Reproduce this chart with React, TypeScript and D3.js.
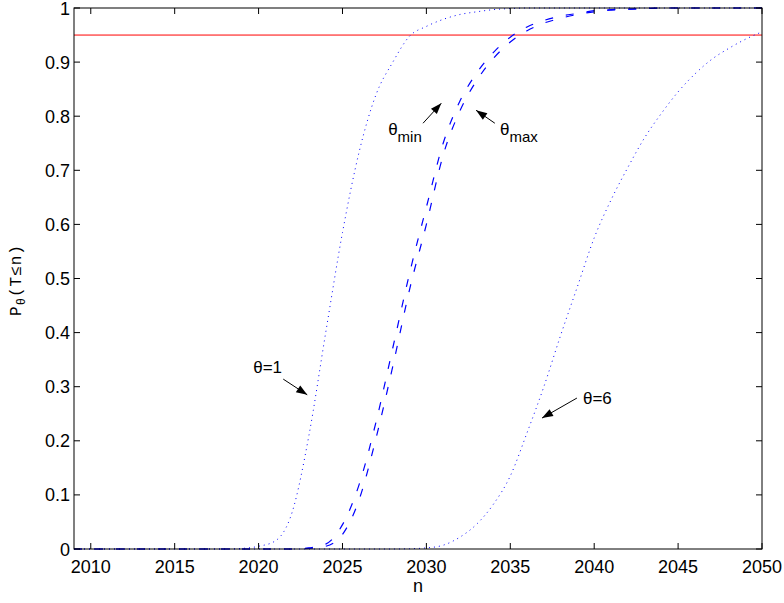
import React from "react";
import * as d3 from "d3";

const years = [2009, 2010, 2011, 2012, 2013, 2014, 2015, 2016, 2017, 2018, 2019, 2020, 2021, 2022, 2023, 2024, 2025, 2026, 2027, 2028, 2029, 2030, 2031, 2032, 2033, 2034, 2035, 2036, 2037, 2038, 2039, 2040, 2041, 2042, 2043, 2044, 2045, 2046, 2047, 2048, 2049, 2050];

const theta1 = [0, 0, 0, 0, 0, 0, 0, 0, 0, 0, 0.001, 0.005, 0.015, 0.068, 0.21, 0.4, 0.585, 0.735, 0.84, 0.9, 0.948, 0.966, 0.979, 0.988, 0.993, 0.997, 0.999, 1, 1, 1, 1, 1, 1, 1, 1, 1, 1, 1, 1, 1, 1, 1];

const theta6 = [0, 0, 0, 0, 0, 0, 0, 0, 0, 0, 0, 0, 0, 0, 0, 0, 0, 0, 0, 0, 0.0005, 0.002, 0.007, 0.022, 0.046, 0.083, 0.135, 0.215, 0.3, 0.395, 0.485, 0.575, 0.645, 0.705, 0.76, 0.805, 0.845, 0.878, 0.905, 0.925, 0.942, 0.956];

const thetaMin = [0, 0, 0, 0, 0, 0, 0, 0, 0, 0, 0, 0, 0, 0, 0.002, 0.009, 0.045, 0.12, 0.235, 0.372, 0.51, 0.632, 0.75, 0.828, 0.88, 0.918, 0.946, 0.965, 0.977, 0.985, 0.99, 0.995, 0.997, 0.998, 0.999, 1, 1, 1, 1, 1, 1, 1];

const thetaMax = [0, 0, 0, 0, 0, 0, 0, 0, 0, 0, 0, 0, 0, 0, 0.001, 0.005, 0.027, 0.092, 0.205, 0.338, 0.48, 0.6, 0.728, 0.81, 0.866, 0.907, 0.937, 0.958, 0.972, 0.981, 0.988, 0.993, 0.996, 0.998, 0.999, 1, 1, 1, 1, 1, 1, 1];

const xTicks = [2010, 2015, 2020, 2025, 2030, 2035, 2040, 2045, 2050];
const yTicks = [0, 0.1, 0.2, 0.3, 0.4, 0.5, 0.6, 0.7, 0.8, 0.9, 1];
const threshold = 0.95;

// annotations in data coordinates
const annLabels = ["θ=1", "θ=6", "θ", "θ"];
const annSubs = ["", "", "min", "max"];
const annText = [[2019.68, 0.325], [2039.33, 0.268], [2027.72, 0.765], [2034.39, 0.765]];
const annArrow = [
  [2021.47, 0.314, 2022.9, 0.285],
  [2038.97, 0.279, 2036.89, 0.242],
  [2029.8, 0.787, 2030.89, 0.824],
  [2034.08, 0.787, 2032.96, 0.811],
];

const W = 784, H = 603;
const L = 74, R = 762, T = 8, B = 549;
const FONT = "'Liberation Sans', Arial, Helvetica, sans-serif";

export default function App() {
  const x = d3.scaleLinear().domain([2009, 2050]).range([L, R]);
  const y = d3.scaleLinear().domain([0, 1]).range([B, T]);
  const line = (vals: number[]) =>
    d3.line<number>().x((_, i) => x(years[i])).y((v) => y(v)).curve(d3.curveMonotoneX)(vals) || "";

  const arrowHead = (x1: number, y1: number, x2: number, y2: number) => {
    const ang = Math.atan2(y2 - y1, x2 - x1);
    const len = 11, hw = 4;
    const bx = x2 - len * Math.cos(ang), by = y2 - len * Math.sin(ang);
    const px = -Math.sin(ang) * hw, py = Math.cos(ang) * hw;
    return `${x2},${y2} ${bx + px},${by + py} ${bx - px},${by - py}`;
  };

  return (
    <svg width={W} height={H} style={{ position: "absolute", left: 0, top: 0, background: "#fff" }}>
      <rect x={0} y={0} width={W} height={H} fill="#fff" />
      <line x1={L} x2={R} y1={y(threshold)} y2={y(threshold)} stroke="#f00" strokeWidth={1} />
      <path d={line(theta1)} fill="none" stroke="#00f" strokeWidth={1} strokeDasharray="1,4" />
      <path d={line(theta6)} fill="none" stroke="#00f" strokeWidth={1} strokeDasharray="1,4" />
      <path d={line(thetaMin)} fill="none" stroke="#00f" strokeWidth={1.2} strokeDasharray="8,13" />
      <path d={line(thetaMax)} fill="none" stroke="#00f" strokeWidth={1.2} strokeDasharray="8,13" />
      <rect x={L} y={T} width={R - L} height={B - T} fill="none" stroke="#000" strokeWidth={1} />
      {xTicks.map((t) => (
        <g key={"x" + t}>
          <line x1={x(t)} x2={x(t)} y1={B} y2={B - 6} stroke="#000" />
          <line x1={x(t)} x2={x(t)} y1={T} y2={T + 6} stroke="#000" />
          <text x={x(t)} y={B + 24} textAnchor="middle" fontFamily={FONT} fontSize={18}>{t}</text>
        </g>
      ))}
      {yTicks.map((t) => (
        <g key={"y" + t}>
          <line x1={L} x2={L + 6} y1={y(t)} y2={y(t)} stroke="#000" />
          <line x1={R} x2={R - 6} y1={y(t)} y2={y(t)} stroke="#000" />
          <text x={L - 4} y={y(t) + 6.5} textAnchor="end" fontFamily={FONT} fontSize={18}>{String(t)}</text>
        </g>
      ))}
      <text x={(L + R) / 2} y={592} textAnchor="middle" fontFamily={FONT} fontSize={18}>n</text>
      <text transform={`translate(21, 280) rotate(-90)`} textAnchor="middle" fontFamily="'Liberation Mono', 'DejaVu Sans Mono', monospace" fontSize={16} letterSpacing={1}>
        P<tspan dy={4} fontSize={12}>θ</tspan><tspan dy={-4}>(T≤n)</tspan>
      </text>
      {annLabels.map((lab, i) => {
        const [ax1, ay1, ax2, ay2] = annArrow[i];
        const x1 = x(ax1), y1 = y(ay1), x2 = x(ax2), y2 = y(ay2);
        return (
          <g key={"a" + i}>
            <line x1={x1} y1={y1} x2={x2} y2={y2} stroke="#000" strokeWidth={1} />
            <polygon points={arrowHead(x1, y1, x2, y2)} fill="#000" />
            <text x={x(annText[i][0])} y={y(annText[i][1])} fontFamily={FONT} fontSize={17}>
              {lab}
              {annSubs[i] ? <tspan dy={7} fontSize={15}>{annSubs[i]}</tspan> : null}
            </text>
          </g>
        );
      })}
    </svg>
  );
}
